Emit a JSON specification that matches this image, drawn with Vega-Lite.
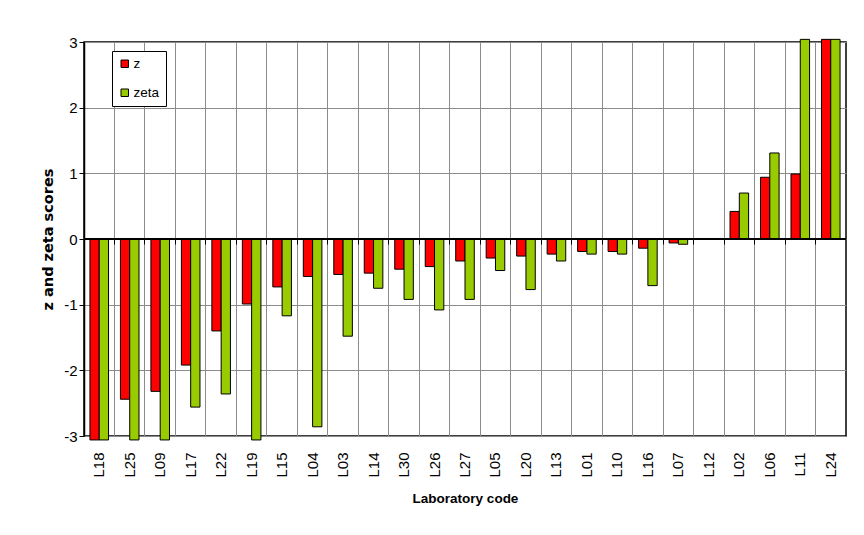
{
  "$schema": "https://vega.github.io/schema/vega-lite/v6.json",
  "autosize": {"type": "none"},
  "padding": {"left": 84, "top": 42, "right": 18, "bottom": 99},
  "width": 762,
  "height": 394,
  "background": "white",
  "config": {
    "font": "Liberation Sans",
    "view": {"stroke": "black", "strokeWidth": 1.5},
    "axis": {"labelFont": "Liberation Sans", "titleFont": "Liberation Sans", "labelColor": "black", "titleColor": "black"}
  },
  "data": {
    "values": [
      {"lab": "L18", "series": "z", "score": -3.06}, {"lab": "L18", "series": "zeta", "score": -3.06},
      {"lab": "L25", "series": "z", "score": -2.44}, {"lab": "L25", "series": "zeta", "score": -3.06},
      {"lab": "L09", "series": "z", "score": -2.32}, {"lab": "L09", "series": "zeta", "score": -3.06},
      {"lab": "L17", "series": "z", "score": -1.92}, {"lab": "L17", "series": "zeta", "score": -2.56},
      {"lab": "L22", "series": "z", "score": -1.40}, {"lab": "L22", "series": "zeta", "score": -2.36},
      {"lab": "L19", "series": "z", "score": -0.99}, {"lab": "L19", "series": "zeta", "score": -3.06},
      {"lab": "L15", "series": "z", "score": -0.73}, {"lab": "L15", "series": "zeta", "score": -1.17},
      {"lab": "L04", "series": "z", "score": -0.57}, {"lab": "L04", "series": "zeta", "score": -2.86},
      {"lab": "L03", "series": "z", "score": -0.54}, {"lab": "L03", "series": "zeta", "score": -1.48},
      {"lab": "L14", "series": "z", "score": -0.52}, {"lab": "L14", "series": "zeta", "score": -0.75},
      {"lab": "L30", "series": "z", "score": -0.46}, {"lab": "L30", "series": "zeta", "score": -0.92},
      {"lab": "L26", "series": "z", "score": -0.42}, {"lab": "L26", "series": "zeta", "score": -1.08},
      {"lab": "L27", "series": "z", "score": -0.335}, {"lab": "L27", "series": "zeta", "score": -0.92},
      {"lab": "L05", "series": "z", "score": -0.29}, {"lab": "L05", "series": "zeta", "score": -0.48},
      {"lab": "L20", "series": "z", "score": -0.26}, {"lab": "L20", "series": "zeta", "score": -0.77},
      {"lab": "L13", "series": "z", "score": -0.23}, {"lab": "L13", "series": "zeta", "score": -0.335},
      {"lab": "L01", "series": "z", "score": -0.19}, {"lab": "L01", "series": "zeta", "score": -0.23},
      {"lab": "L10", "series": "z", "score": -0.19}, {"lab": "L10", "series": "zeta", "score": -0.23},
      {"lab": "L16", "series": "z", "score": -0.14}, {"lab": "L16", "series": "zeta", "score": -0.71},
      {"lab": "L07", "series": "z", "score": -0.06}, {"lab": "L07", "series": "zeta", "score": -0.08},
      {"lab": "L12", "series": "z", "score": null}, {"lab": "L12", "series": "zeta", "score": null},
      {"lab": "L02", "series": "z", "score": 0.42}, {"lab": "L02", "series": "zeta", "score": 0.70},
      {"lab": "L06", "series": "z", "score": 0.94}, {"lab": "L06", "series": "zeta", "score": 1.31},
      {"lab": "L11", "series": "z", "score": 0.99}, {"lab": "L11", "series": "zeta", "score": 3.04},
      {"lab": "L24", "series": "z", "score": 3.04}, {"lab": "L24", "series": "zeta", "score": 3.04}
    ]
  },
  "resolve": {"axis": {"x": "independent"}},
  "layer": [
    {
      "mark": {"type": "bar", "stroke": "black", "strokeWidth": 1, "clip": false},
      "encoding": {
        "x": {
          "field": "lab", "type": "nominal",
          "scale": {"domain": ["L18","L25","L09","L17","L22","L19","L15","L04","L03","L14","L30","L26","L27","L05","L20","L13","L01","L10","L16","L07","L12","L02","L06","L11","L24"], "paddingInner": 0, "paddingOuter": 0},
          "axis": {
            "title": "Laboratory code", "titleFontWeight": "bold", "titleFontSize": 13.5, "titlePadding": 14,
            "labelAngle": -90, "labelFontSize": 15, "labelPadding": 16,
            "ticks": false, "domain": false,
            "grid": true, "bandPosition": 0, "gridColor": "#8c8c8c", "gridWidth": 1
          }
        },
        "xOffset": {"field": "series", "type": "nominal", "scale": {"paddingOuter": 0.64, "paddingInner": 0}},
        "y": {
          "field": "score", "type": "quantitative",
          "scale": {"domain": [-3, 3], "nice": false, "zero": false},
          "axis": {
            "title": "z and zeta scores", "titleFont": "DejaVu Sans", "titleFontWeight": "bold", "titleFontSize": 14.5, "titlePadding": 8,
            "values": [-3, -2, -1, 0, 1, 2, 3], "labelExpr": "'' + datum.value", "labelFontSize": 15, "labelPadding": 2,
            "tickSize": 5, "tickColor": "black", "domainColor": "black", "domainWidth": 1.5,
            "grid": true, "gridColor": "#8c8c8c", "gridWidth": 1
          }
        },
        "color": {
          "field": "series", "type": "nominal",
          "scale": {"domain": ["z", "zeta"], "range": ["#ff0000", "#99cc00"]},
          "legend": {
            "title": null, "orient": "none", "legendX": 28, "legendY": 9,
            "symbolType": "square", "symbolSize": 56, "symbolStrokeColor": "black", "symbolStrokeWidth": 1,
            "labelFontSize": 13.5, "labelFont": "Liberation Sans", "labelColor": "black", "labelOffset": 2,
            "rowPadding": 14, "padding": 6, "strokeColor": "black", "fillColor": "white"
          }
        }
      }
    },
    {
      "mark": {"type": "bar", "opacity": 0},
      "encoding": {
        "x": {
          "field": "lab", "type": "nominal",
          "axis": {"orient": "bottom", "offset": -197, "labels": false, "grid": false, "domain": false, "ticks": true, "tickSize": 5, "tickColor": "black", "tickWidth": 1, "bandPosition": 0, "title": null}
        }
      }
    },
    {
      "mark": {"type": "rule", "color": "black", "strokeWidth": 1.5},
      "encoding": {"y": {"datum": 0}}
    }
  ]
}
